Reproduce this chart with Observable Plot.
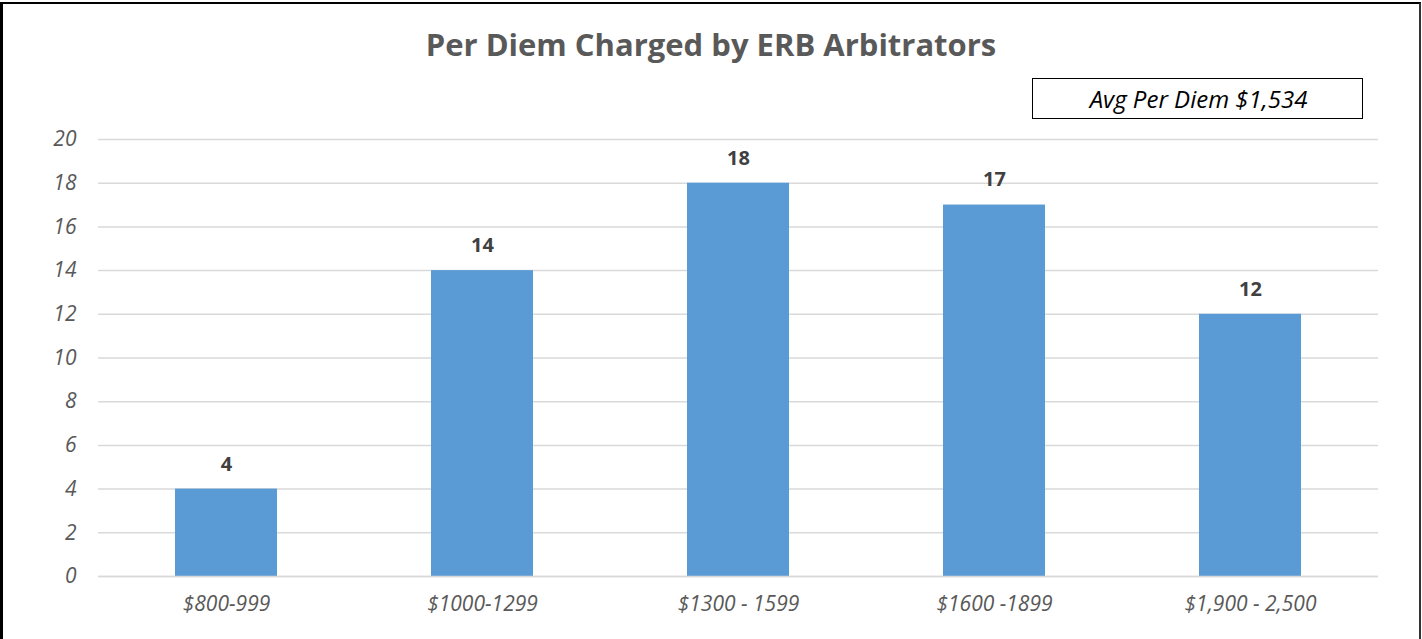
<!DOCTYPE html>
<html>
<head>
<meta charset="utf-8">
<script src="https://cdn.jsdelivr.net/npm/d3@7"></script>
<script src="https://cdn.jsdelivr.net/npm/@observablehq/plot@0.6"></script>
<style>
  html, body { margin: 0; padding: 0; background: #fff; }
  #wrap { position: relative; width: 1422px; height: 639px; overflow: hidden; font-family: "Open Sans", Lato, sans-serif; }
  #frame { position: absolute; left: 0; top: 2px; width: 1421px; height: 660px; border: 2px solid #000; border-right-color: #333; box-sizing: border-box; border-left-width: 3px; pointer-events: none; }
  #title { position: absolute; left: 0; width: 1422px; top: 23px; text-align: center; font-size: 31px; font-weight: 700; color: #595959; }
  #avg { position: absolute; left: 1032px; top: 78px; width: 331px; height: 41px; border: 1.5px solid #000; box-sizing: border-box; font-style: italic; font-size: 24px; color: #000; text-align: center; line-height: 38px; padding-top: 1px; padding-left: 2px; }
  #chart { position: absolute; left: 0; top: 0; }
</style>
</head>
<body>
<div id="wrap">
  <div id="chart"></div>
  <div id="title">Per Diem Charged by ERB Arbitrators</div>
  <div id="avg">Avg Per Diem $1,534</div>
  <div id="frame"></div>
</div>
<script>
const categories = ["$800-999", "$1000-1299", "$1300 - 1599", "$1600 -1899", "$1,900 - 2,500"];
const counts = [4, 14, 18, 17, 12];
const yTicks = [0, 2, 4, 6, 8, 10, 12, 14, 16, 18, 20];

const data = categories.map((c, i) => ({category: c, count: counts[i]}));

const chart = Plot.plot({
  width: 1422,
  height: 639,
  marginLeft: 98,
  marginRight: 44,
  marginTop: 139,
  marginBottom: 63,
  style: {fontFamily: "'Open Sans', Lato, sans-serif", background: "transparent", overflow: "visible"},
  x: {domain: categories, paddingInner: 0.6, paddingOuter: 0.3, label: null},
  y: {domain: [0, 20], label: null},
  marks: [
    Plot.gridY(yTicks, {stroke: "#d9d9d9", strokeOpacity: 1, strokeWidth: 1.5}),
    Plot.barY(data, {x: "category", y: "count", fill: "#5b9bd5"}),
    Plot.ruleY([0], {stroke: "#d9d9d9", strokeWidth: 1.5}),
    Plot.axisY(yTicks, {tickSize: 0, tickPadding: 22, fontSize: 21, fontStyle: "italic", fill: "#595959", label: null}),
    Plot.axisX({tickSize: 0, tickPadding: 20, fontSize: 21, fontStyle: "italic", fill: "#595959", label: null}),
    Plot.text(data, {x: "category", y: "count", text: d => String(d.count), dy: -25, fontSize: 20, fontWeight: 700, fill: "#404040"})
  ]
});
document.getElementById("chart").appendChild(chart);
</script>
</body>
</html>
